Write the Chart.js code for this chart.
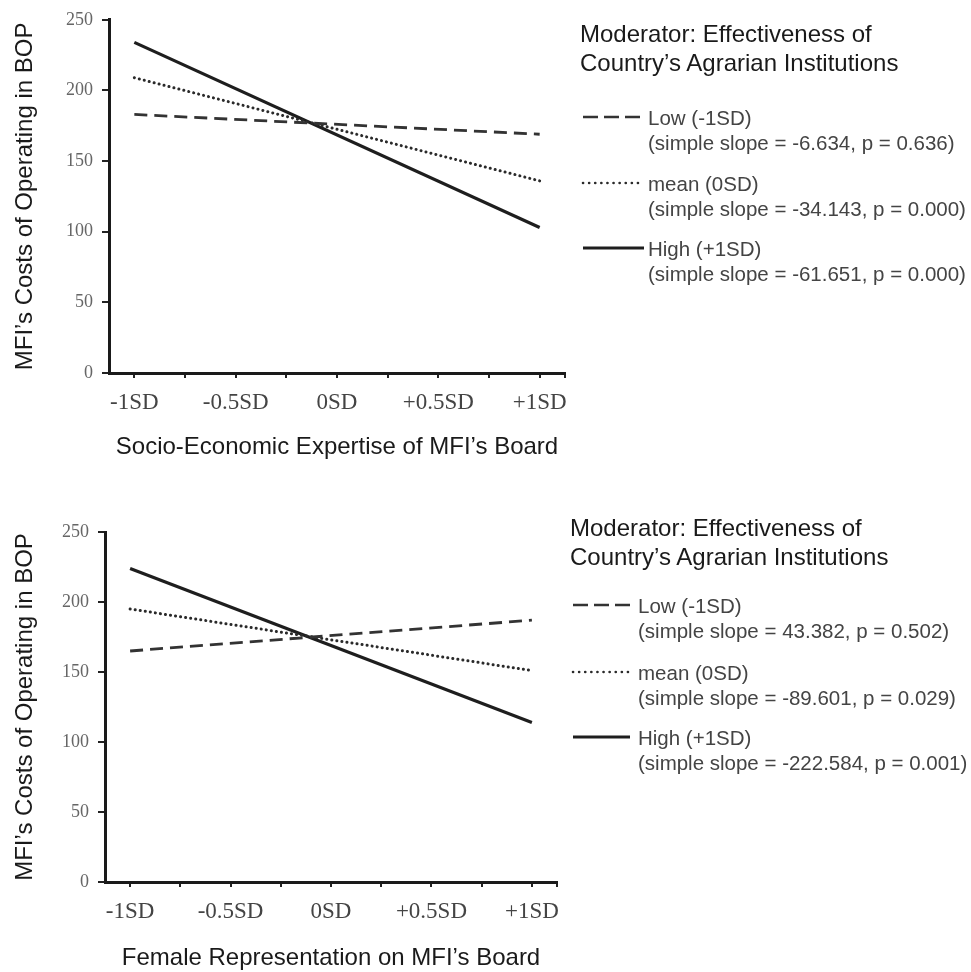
<!DOCTYPE html>
<html><head><meta charset="utf-8">
<script src="https://cdn.jsdelivr.net/npm/chart.js@4.4.1/dist/chart.umd.min.js"></script>
<style>
html,body{margin:0;padding:0;background:#fff;width:971px;height:972px;overflow:hidden;}
#wrap{position:relative;width:971px;height:972px;}
canvas{position:absolute;left:0;}
.lg{position:absolute;font-family:'Liberation Sans',Arial,sans-serif;white-space:nowrap;}
.lt{font-size:24px;line-height:29px;color:#1a1a1a;}
.le{font-size:20.5px;line-height:25px;color:#444;}
#samples{position:absolute;left:0;top:0;}
</style></head>
<body><div id="wrap">
<canvas id="c1" width="580" height="480" style="top:0px;width:580px;height:480px"></canvas>
<canvas id="c2" width="580" height="492" style="top:480px;width:580px;height:492px"></canvas>
<svg id="samples" width="971" height="972"></svg>
</div>
<script>
// ---------- data ----------
const xCategories = [-1, 1];                 // SD positions of plotted points
const xTickValues = [-1, -0.5, 0, 0.5, 1];
const xTickLabels = ['-1SD', '-0.5SD', '0SD', '+0.5SD', '+1SD'];
const xTickMarks = [-1, -0.75, -0.5, -0.25, 0, 0.25, 0.5, 0.75, 1, 1.125];
const yMin = 0, yMax = 250, yStep = 50;
const seriesNames = ['Low (-1SD)', 'mean (0SD)', 'High (+1SD)'];

const topLow  = [183, 169];
const topMean = [209, 136];
const topHigh = [234, 103];
const botLow  = [165, 187];
const botMean = [195, 151];
const botHigh = [224, 114];

const topSlopes = ['(simple slope = -6.634, p = 0.636)', '(simple slope = -34.143, p = 0.000)', '(simple slope = -61.651, p = 0.000)'];
const botSlopes = ['(simple slope = 43.382, p = 0.502)', '(simple slope = -89.601, p = 0.029)', '(simple slope = -222.584, p = 0.001)'];
const topXTitle = 'Socio-Economic Expertise of MFI\u2019s Board';
const botXTitle = 'Female Representation on MFI\u2019s Board';
const yTitle = 'MFI\u2019s Costs of Operating in BOP';
const legendTitle = ['Moderator: Effectiveness of', 'Country\u2019s Agrarian Institutions'];

// ---------- styles ----------
const lineStyles = [
  {borderColor:'#333', borderWidth:2.8, borderDash:[13,7], borderCapStyle:'butt'},
  {borderColor:'#2a2a2a', borderWidth:3, borderDash:[0.1,5], borderCapStyle:'round'},
  {borderColor:'#1e1e1e', borderWidth:3.2, borderDash:[], borderCapStyle:'butt'}
];

Chart.defaults.font.family = "'Liberation Sans', Arial, sans-serif";

function makeChart(id, series, xTitle, g) {
  const datasets = series.map((vals, k) => Object.assign({
    label: seriesNames[k],
    data: xCategories.map((x, i) => ({x: x, y: vals[i]})),
    pointRadius: 0, fill: false, tension: 0
  }, lineStyles[k]));
  return new Chart(document.getElementById(id), {
    type: 'line',
    data: {datasets},
    options: {
      responsive: false, animation: false, devicePixelRatio: 1,
      layout: {padding: {left: 0, top: g.top, right: g.right, bottom: 0}},
      plugins: {legend: {display: false}, tooltip: {enabled: false}},
      scales: {
        x: {
          type: 'linear', min: -1.125, max: 1.125,
          afterBuildTicks(scale) { scale.ticks = xTickMarks.map(v => ({value: v})); },
          afterFit(scale) { scale.height = g.xh; },
          ticks: {
            autoSkip: false, maxRotation: 0, minRotation: 0, padding: 11, color: '#444',
            font: {family: "'Liberation Serif', 'Times New Roman', serif", size: 23},
            callback(v) { const i = xTickValues.indexOf(v); return i >= 0 ? xTickLabels[i] : ''; }
          },
          grid: {drawOnChartArea: false, drawTicks: true, tickLength: 5, color: '#222', lineWidth: 2},
          border: {display: true, color: '#1a1a1a', width: 3},
          title: {display: true, text: xTitle, color: '#1a1a1a',
                  font: {size: 24, lineHeight: 1}, padding: {top: 0, bottom: g.xtp}}
        },
        y: {
          min: yMin, max: yMax,
          afterFit(scale) { scale.width = g.yw; },
          ticks: {stepSize: yStep, padding: 9, color: '#666',
                  font: {family: "'Liberation Serif', 'Times New Roman', serif", size: 18}},
          grid: {drawOnChartArea: false, drawTicks: true, tickLength: 7, color: '#222', lineWidth: 2},
          border: {display: true, color: '#1a1a1a', width: 3},
          title: {display: true, text: yTitle, color: '#1a1a1a',
                  font: {size: 24, lineHeight: 1}, padding: {top: 13, bottom: 0}}
        }
      }
    }
  });
}

makeChart('c1', [topLow, topMean, topHigh], topXTitle, {top: 16, right: 15, xh: 107, yw: 109, xtp: 21});
makeChart('c2', [botLow, botMean, botHigh], botXTitle, {top: 52, right: 23, xh: 90, yw: 105, xtp: 2});

// ---------- legends (HTML text + svg samples) ----------
const wrap = document.getElementById('wrap');
const svg = document.getElementById('samples');
function addLegend(L, slopes) {
  const t = document.createElement('div');
  t.className = 'lg lt';
  t.style.left = L.titleLeft + 'px'; t.style.top = L.titleTop + 'px';
  t.innerHTML = legendTitle.join('<br>');
  wrap.appendChild(t);
  seriesNames.forEach((name, k) => {
    const d = document.createElement('div');
    d.className = 'lg le';
    d.style.left = L.entryLeft + 'px'; d.style.top = (L.rows[k] - 12.5) + 'px';
    d.innerHTML = name + '<br>' + slopes[k];
    wrap.appendChild(d);
    const ln = document.createElementNS('http://www.w3.org/2000/svg', 'line');
    const st = lineStyles[k];
    ln.setAttribute('x1', L.x1); ln.setAttribute('x2', L.x2);
    ln.setAttribute('y1', L.rows[k]); ln.setAttribute('y2', L.rows[k]);
    ln.setAttribute('stroke', st.borderColor);
    ln.setAttribute('stroke-width', k === 1 ? 2.6 : (k === 2 ? 3.2 : 2.6));
    if (k === 0) ln.setAttribute('stroke-dasharray', '15 6');
    if (k === 1) { ln.setAttribute('stroke-dasharray', '0.1 6'); ln.setAttribute('stroke-linecap', 'round'); }
    svg.appendChild(ln);
  });
}
addLegend({titleLeft: 580, titleTop: 18.5, entryLeft: 648, rows: [117, 183, 248], x1: 583, x2: 644}, topSlopes);
addLegend({titleLeft: 570, titleTop: 512.5, entryLeft: 638, rows: [605, 672, 737], x1: 573, x2: 630}, botSlopes);
</script>
</body></html>
